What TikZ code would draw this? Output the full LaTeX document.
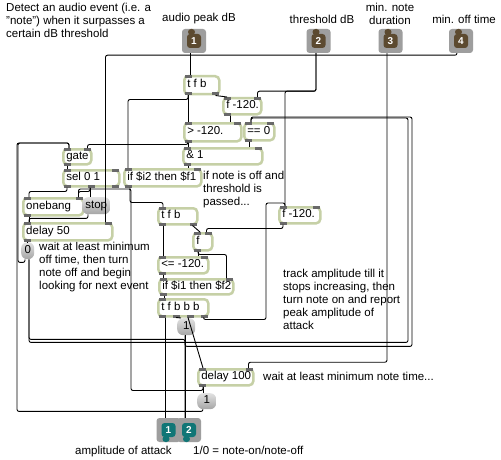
\documentclass[tikz,border=0pt]{standalone}
\usepackage{fontspec}
\setmainfont{Liberation Sans}
\usetikzlibrary{calc}

\definecolor{objrim}{RGB}{198,208,166}
\definecolor{portgray}{RGB}{105,105,105}
\definecolor{msgtop}{RGB}{225,225,225}
\definecolor{msgbot}{RGB}{165,165,165}
\definecolor{iorim}{RGB}{158,158,158}
\definecolor{inbrown}{RGB}{92,74,48}
\definecolor{outteal}{RGB}{16,118,118}

\newcommand\boxtxt[2]{\makebox[#1][l]{\strut#2}}
% inlet and outlet marks of a patcher object
\newcommand\ports[3]{%
  \foreach \k in {1,...,#2}{%
    \ifnum#2=1 \def\portfrac{0}\else\pgfmathsetmacro\portfrac{(\k-1)/(#2-1)}\fi
    \fill[port] ($([xshift=1.5pt]#1.north west)!\portfrac!([xshift=-8.5pt]#1.north east)$) rectangle ++(7,3);}%
  \foreach \k in {1,...,#3}{%
    \ifnum#3=1 \def\portfrac{0}\else\pgfmathsetmacro\portfrac{(\k-1)/(#3-1)}\fi
    \fill[port] ($([xshift=1.5pt]#1.south west)!\portfrac!([xshift=-8.5pt]#1.south east)$) rectangle ++(7,-3);}%
}

\tikzset{
  obj/.style={draw=objrim, line width=2.5pt, fill=white, rounded corners=4pt, anchor=north west, inner xsep=3pt, inner ysep=0pt},
  msg/.style={rounded corners=6pt, top color=msgtop, bottom color=msgbot, anchor=north west, inner sep=0pt},
  wire/.style={line width=0.9pt, rounded corners=2pt},
  note/.style={anchor=north west, inner sep=0pt, align=left},
  label/.style={inner sep=0pt, align=center},
  port/.style={fill=portgray},
  inport/.style={fill=iorim, rounded corners=3pt, minimum size=24pt, inner sep=0pt, text=white,
    font=\bfseries\fontsize{10}{10}\selectfont,
    path picture={
      \fill[inbrown] ([xshift=-7pt,yshift=-7pt]path picture bounding box.center) rectangle ([xshift=7pt,yshift=7pt]path picture bounding box.center);
      \fill[inbrown] ([xshift=-6pt,yshift=6pt]path picture bounding box.center) rectangle ([xshift=1pt,yshift=12pt]path picture bounding box.center);}},
  outport/.style={fill=iorim, rounded corners=3pt, minimum size=24pt, inner sep=0pt, text=white,
    font=\bfseries\fontsize{10}{10}\selectfont,
    path picture={
      \fill[outteal] ([xshift=-7pt,yshift=-7pt]path picture bounding box.center) rectangle ([xshift=7pt,yshift=7pt]path picture bounding box.center);
      \fill[outteal] ([xshift=-6pt,yshift=-6pt]path picture bounding box.center) rectangle ([xshift=1pt,yshift=-12pt]path picture bounding box.center);}},
}

\begin{document}
\begin{tikzpicture}[x=1pt, y=-1pt, font=\fontsize{11.5}{13}\selectfont]
\useasboundingbox[fill=white] (0,0) rectangle (501,460);

% comments
\node[note] (hdr) at (6,3) {Detect an audio event (i.e. a\\"note") when it surpasses a\\certain dB threshold};
\node[label] (lblin1) at (199,19) {audio peak dB};
\node[label] (lblin2) at (322,19) {threshold dB};
\node[label] (lblin3) at (390,14) {min. note\\duration};
\node[label] (lblin4) at (464,19) {min. off time};
\node[note] (notegate) at (203,171) {if note is off and\\threshold is\\passed...};
\node[note] (noteoff) at (39,242) {wait at least minimum\\off time, then turn\\note off and begin\\looking for next event};
\node[note] (notetrack) at (283,269) {track amplitude till it\\stops increasing, then\\turn note on and report\\peak amplitude of\\attack};
\node[note] (notemin) at (263,372) {wait at least minimum note time...};
\node[note] (lblout1) at (75,446) {amplitude of attack};
\node[note] (lblout2) at (193,446) {1/0 = note-on/note-off};

% inlets and outlets
\node[inport] (in1) at (194,41) {1};
\node[inport] (in2) at (318.5,41) {2};
\node[inport] (in3) at (390.5,41) {3};
\node[inport] (in4) at (461,41) {4};
\node[outport] (out1) at (168.5,430) {1};
\node[outport] (out2) at (189,430) {2};

% threshold test
\node[obj, minimum height=18pt] (tfbA) at (183,75) {\boxtxt{29pt}{t f b}};
\node[obj, minimum height=16pt] (fA) at (222,97) {\boxtxt{32pt}{f -120.}};
\node[obj, minimum height=18pt] (gt) at (183,122) {\boxtxt{51pt}{> -120.}};
\node[obj, minimum height=17pt] (eq) at (243,122) {\boxtxt{24pt}{== 0}};
\node[obj, minimum height=16pt] (andA) at (182,147) {\boxtxt{73pt}{\& 1}};
\node[obj, minimum height=17pt] (ifA) at (123,168) {\boxtxt{71pt}{if \$i2 then \$f1}};

% note off
\node[obj, minimum height=15pt] (gate) at (62,148) {\boxtxt{22pt}{gate}};
\node[obj, minimum height=16pt] (sel) at (62,169) {\boxtxt{50pt}{sel 0 1}};
\node[obj, minimum height=17pt] (onebang) at (22,197) {\boxtxt{54pt}{onebang}};
\node[msg, minimum width=28pt, minimum height=17pt] (stop) at (82,197) {\strut stop};
\node[obj, minimum height=17pt] (delayA) at (22,222) {\boxtxt{83pt}{delay 50}};
\node[msg, minimum width=13pt, minimum height=17pt] (zero) at (21,242) {\strut 0};

% attack tracking
\node[obj, minimum height=16pt] (tfbB) at (157,207) {\boxtxt{33pt}{t f b}};
\node[obj, minimum height=16pt] (fB) at (278,206) {\boxtxt{35pt}{f -120.}};
\node[obj, minimum height=17pt] (fC) at (192,232) {\boxtxt{13pt}{f}};
\node[obj, minimum height=16pt] (le) at (157,256) {\boxtxt{44pt}{<= -120.}};
\node[obj, minimum height=15pt] (ifB) at (158,278) {\boxtxt{68pt}{if \$i1 then \$f2}};
\node[obj, minimum height=17pt] (tfbbb) at (157,298) {\boxtxt{44pt}{t f b b b}};
\node[msg, minimum width=18pt, minimum height=17pt] (oneA) at (177,318) {\strut 1};
\node[obj, minimum height=16pt] (delayB) at (197,368) {\boxtxt{49pt}{delay 100}};
\node[msg, minimum width=19pt, minimum height=16pt] (oneB) at (197,393) {\strut 1};

\ports{tfbA}{1}{2} \ports{fA}{2}{1} \ports{gt}{2}{1} \ports{eq}{2}{1}
\ports{andA}{2}{1} \ports{ifA}{2}{1} \ports{gate}{2}{1} \ports{sel}{2}{3}
\ports{onebang}{2}{1} \ports{delayA}{2}{1} \ports{tfbB}{1}{2} \ports{fB}{2}{1}
\ports{fC}{2}{1} \ports{le}{2}{1} \ports{ifB}{2}{1} \ports{tfbbb}{1}{4}
\ports{delayB}{2}{1}

% patch cords: threshold test
\draw[wire] ([xshift=-4pt]in1.south) -- ([xshift=-4pt]in1.south |- tfbA.north);
\draw[wire] ([xshift=5pt]tfbA.south west) -- ([xshift=5pt]tfbA.south west |- gt.north);
\draw[wire] ([xshift=5pt]tfbA.south west) -- ++(0,4) -| ([xshift=5pt]ifA.north west);
\draw[wire] ([xshift=-5pt]tfbA.south east) -- ([xshift=5pt]fA.north west);
\draw[wire] ([xshift=-2.5pt]in2.south) -- ++(0,38) -| ([xshift=-5pt]fA.north east);
\draw[wire] ([xshift=-2.5pt]in2.south) -- ++(0,38) -| ([xshift=7pt]fB.north west);
\draw[wire] ([xshift=8pt]fA.south west) -- ([xshift=8pt]fA.south west |- gt.north);
\draw[wire] ([xshift=5pt]gt.south west) -- ([xshift=5pt]gt.south west |- andA.north);
\draw[wire] ([xshift=5pt]gt.south west) -- ++(0,2) -| ([xshift=-5pt]gate.north east);
\draw[wire] ([xshift=6pt]eq.south west) -- ([xshift=6pt]eq.south west |- andA.north);
\draw[wire] ([xshift=6pt]andA.south west) -- ([xshift=6pt]andA.south west |- ifA.north);

% patch cords: note off
\draw[wire] ([xshift=5pt]gate.south west) -- ([xshift=5pt]gate.south west |- sel.north);
\draw[wire] ([xshift=5pt]sel.south west) -- ++(0,4) -| ([xshift=7pt]onebang.north west);
\draw[wire] ([xshift=28pt]sel.south west) -- ([xshift=28pt]sel.south west |- stop.north);
\draw[wire] ([xshift=28pt]sel.south west) -- ++(0,4) -| ([xshift=-6pt]onebang.north east);
\draw[wire] ([xshift=6pt]stop.south west) -- ++(0,4) -| ([xshift=7pt]delayA.north west);
\draw[wire] ([xshift=7pt]onebang.south west) -- ([xshift=7pt]onebang.south west |- delayA.north);
\draw[wire] ([xshift=-4pt]in4.south) -- ++(0,2) -| ([xshift=-8pt]delayA.north east);
\draw[wire] ([xshift=5pt]delayA.south west) -- ([xshift=5pt]delayA.south west |- zero.north);
\draw[wire] ([xshift=4pt]zero.south west) -- ++(0,3) -| (18,143) -| ([xshift=7pt]gate.north west);
\draw[wire] ([xshift=8pt]zero.south west) -- ++(0,80) -| ([xshift=-4pt]out2.north);
\draw[wire] ([xshift=8pt]zero.south west) -- ++(0,83) -| (408,118) -| ([xshift=8pt]eq.north west);
\draw[wire] ([xshift=7pt]ifA.south west) -- ++(0,15) -| ([xshift=6pt]tfbB.north west);

% patch cords: attack tracking
\draw[wire] ([xshift=6pt]tfbB.south west) -- ([xshift=6pt]tfbB.south west |- le.north);
\draw[wire] ([xshift=-6pt]tfbB.south east) -- ([xshift=8pt]fC.north west);
\draw[wire] ([xshift=5pt]fB.south west) -- ++(0,4) -| ([xshift=-7pt]fC.north east);
\draw[wire] ([xshift=6pt]fC.south west) -- ([xshift=6pt]fC.south west |- le.north);
\draw[wire] ([xshift=6pt]fC.south west) -- ++(0,3) -| ([xshift=-8pt]ifB.north east);
\draw[wire] ([xshift=6pt]le.south west) -- ([xshift=6pt]le.south west |- ifB.north);
\draw[wire] ([xshift=6pt]ifB.south west) -- ([xshift=6pt]ifB.south west |- tfbbb.north);
\draw[wire] ([xshift=-3pt]out1.north |- tfbbb.south) -- ([xshift=-3pt]out1.north);
\draw[wire] ([xshift=19pt]tfbbb.south west) -- ([xshift=4pt]oneA.north west);
\draw[wire] ([xshift=31pt]tfbbb.south west) -- ([xshift=6pt]delayB.north west);
\draw[wire] ([xshift=-6pt]tfbbb.south east) -- ++(0,2) -| (266,203) -| ([xshift=7pt]fB.north west);
\draw[wire] ([xshift=-4pt]out2.north |- oneA.south) -- ([xshift=-4pt]out2.north);
\draw[wire] ([xshift=-4pt]out2.north |- oneA.south) -- ++(0,11) -| (412,117) -| ([xshift=8pt]eq.north west);
\draw[wire] ([xshift=-3.5pt]in3.south) -- ++(0,309) -| ([xshift=-6pt]delayB.north east);

% note on and reset
\draw[wire] ([xshift=6pt]delayB.south west) -- ++(0,4) -| (131,189) -| ([xshift=-6pt]onebang.north east);
\draw[wire] ([xshift=6pt]delayB.south west) -- ([xshift=6pt]delayB.south west |- oneB.north);
\draw[wire] ([xshift=6pt]oneB.south west) -- ++(0,2) -| (17,143) -| ([xshift=7pt]gate.north west);
\end{tikzpicture}
\end{document}
